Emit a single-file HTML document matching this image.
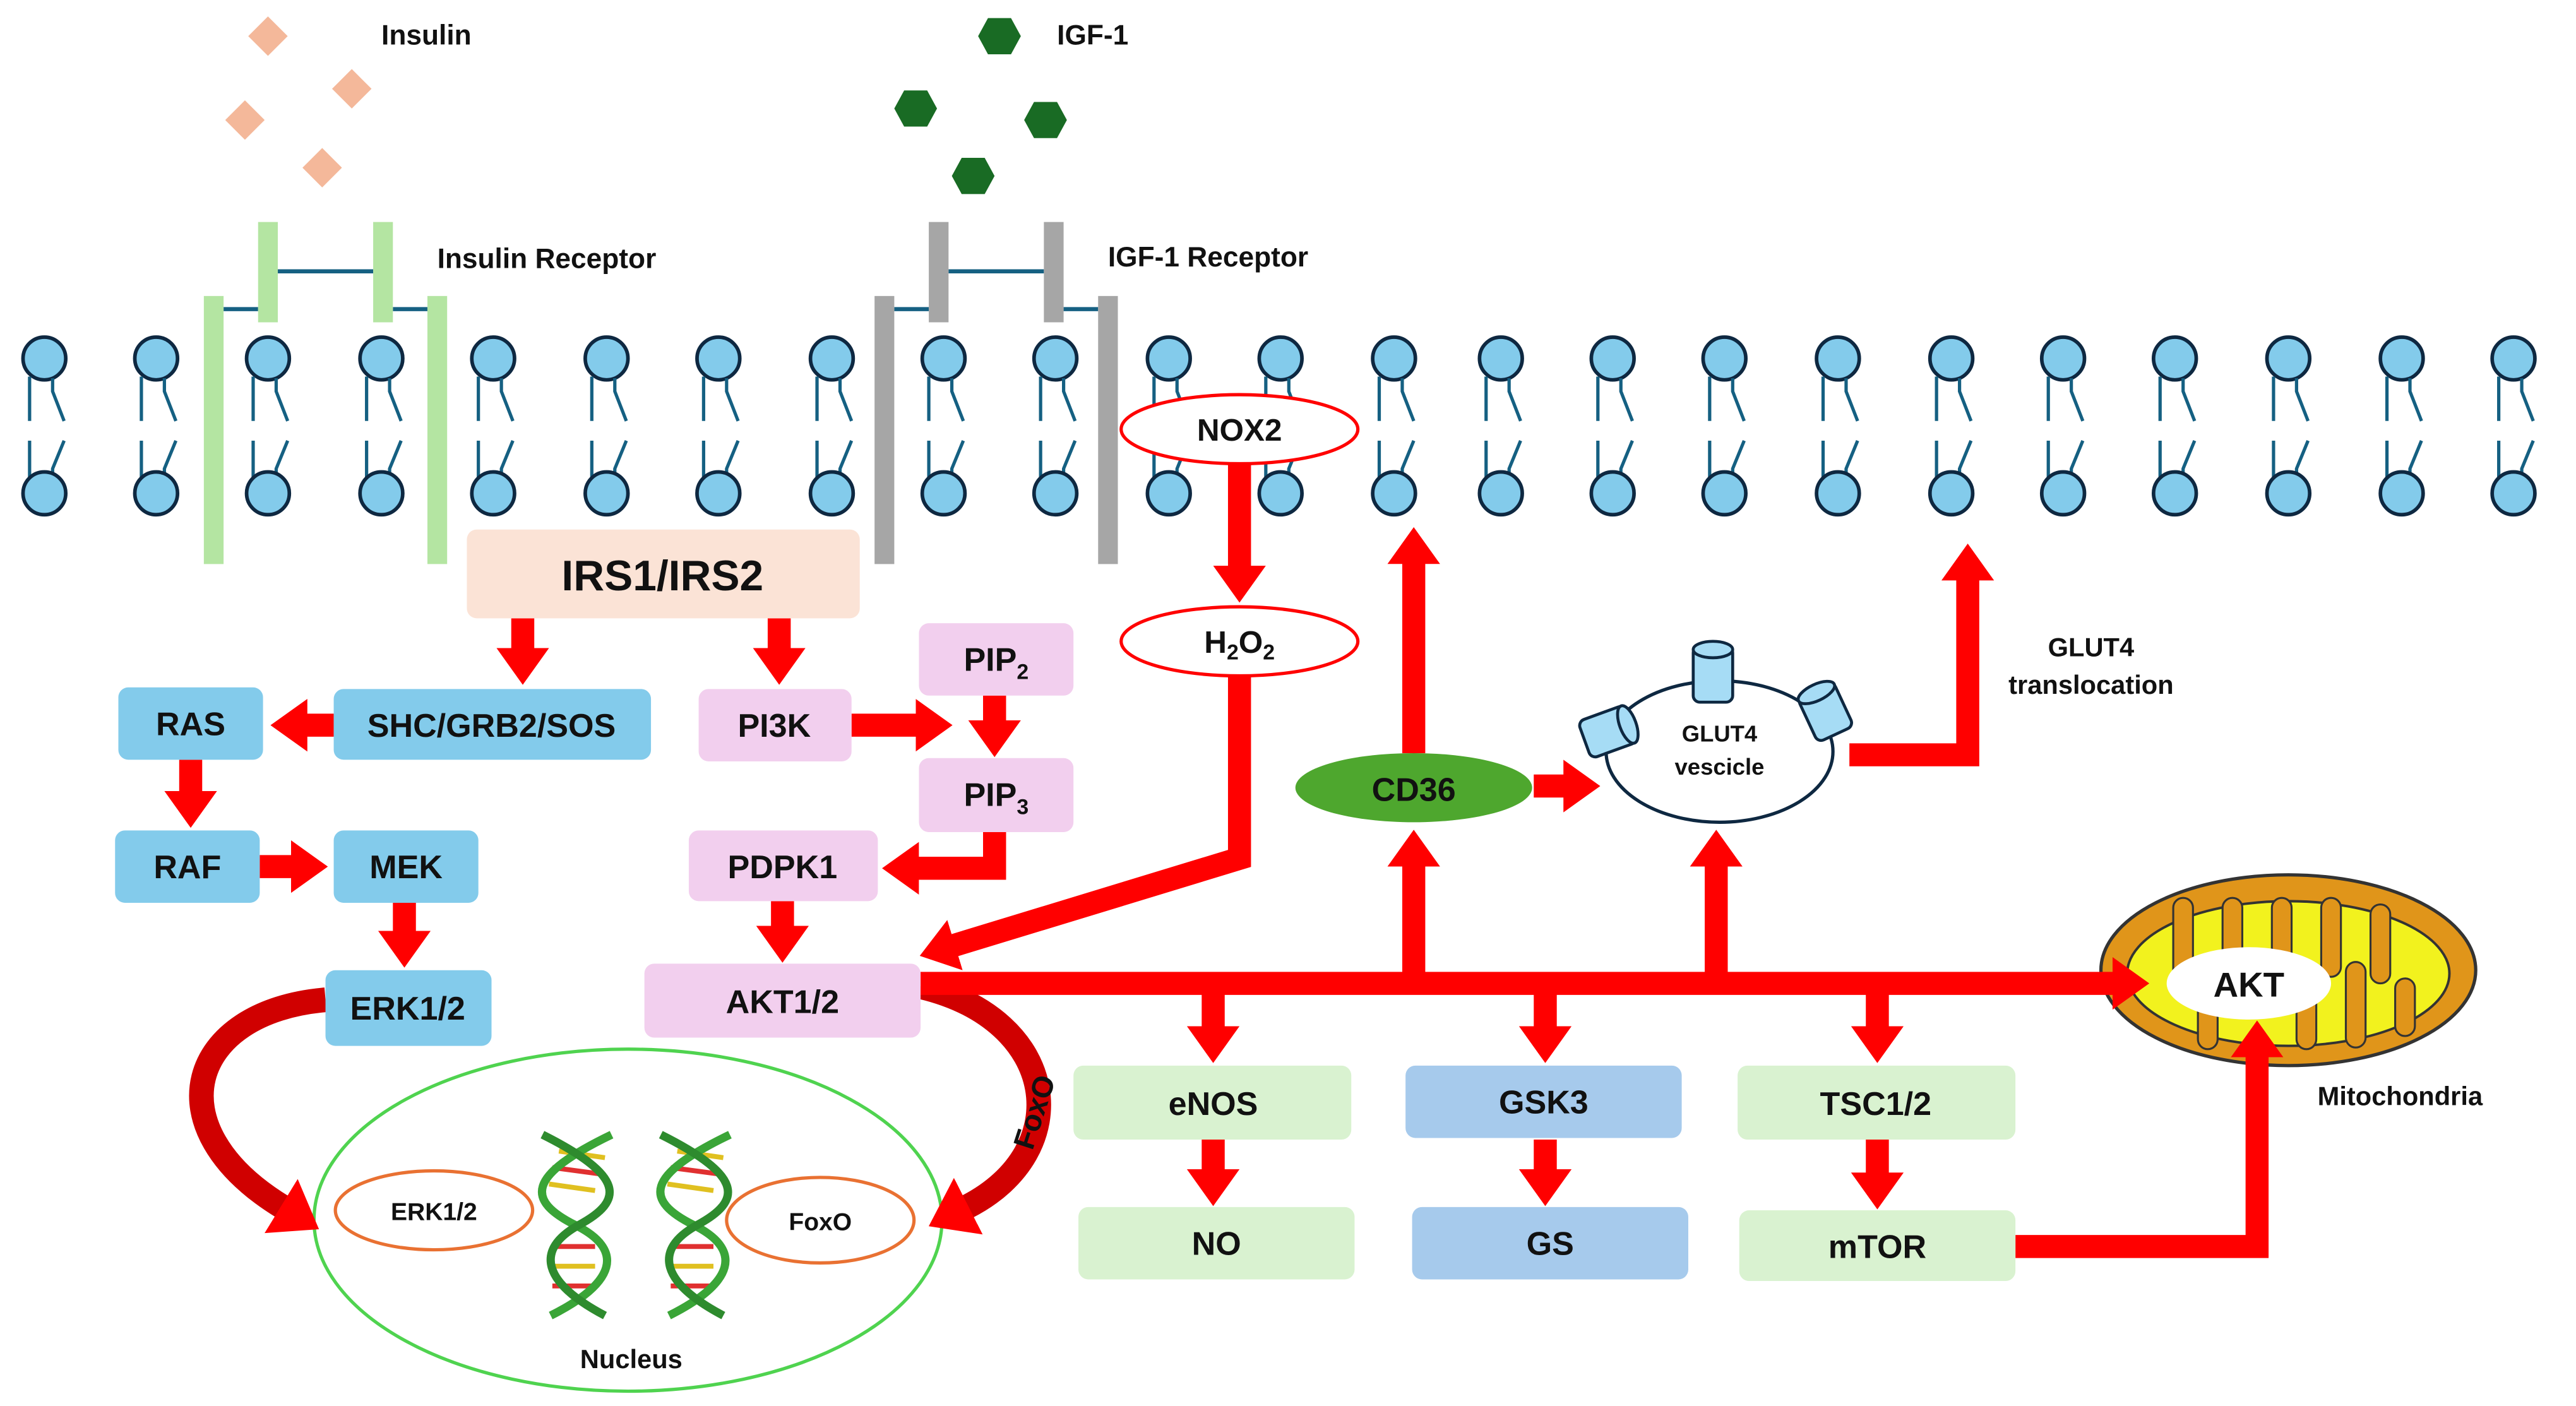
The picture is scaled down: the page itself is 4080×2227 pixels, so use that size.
<!DOCTYPE html>
<html><head><meta charset="utf-8"><style>
html,body{margin:0;padding:0;background:#fff}
svg{display:block}
text{font-family:"Liberation Sans Narrow","Liberation Sans",sans-serif;font-weight:bold;fill:#111}
</style></head><body>
<svg width="4080" height="2227" viewBox="0 0 1567 855" preserveAspectRatio="none" xmlns="http://www.w3.org/2000/svg">
<defs>
<g id="lip">
<circle cx="0" cy="218" r="13" fill="#83cbeb" stroke="#0e2841" stroke-width="2.2"/>
<polyline points="-9,229 -9,256" fill="none" stroke="#156082" stroke-width="2"/>
<polyline points="5,230 5,238 12,256" fill="none" stroke="#156082" stroke-width="2"/>
<polyline points="-9,268 -9,290" fill="none" stroke="#156082" stroke-width="2"/>
<polyline points="12,268 5,285 5,290" fill="none" stroke="#156082" stroke-width="2"/>
<circle cx="0" cy="300" r="13" fill="#83cbeb" stroke="#0e2841" stroke-width="2.2"/>
</g>
<marker id="ah" viewBox="0 0 7 10" refX="0.3" refY="5" markerWidth="1.6" markerHeight="2.3" orient="auto" markerUnits="strokeWidth">
<path d="M0,0 L7,5 L0,10 z" fill="#ff0000"/>
</marker>
<marker id="ahd" viewBox="0 0 7 10" refX="0.3" refY="5" markerWidth="1.8" markerHeight="2.6" orient="auto" markerUnits="strokeWidth">
<path d="M0,0 L7,5 L0,10 z" fill="#ff0000"/>
</marker>
</defs>

<!-- ligands -->
<g fill="#f4b89a">
<polygon points="163,10 175,22 163,34 151,22"/>
<polygon points="214,42 226,54 214,66 202,54"/>
<polygon points="149,61 161,73 149,85 137,73"/>
<polygon points="196,90 208,102 196,114 184,102"/>
</g>
<g fill="#196b24">
<polygon points="595,22 601,11 615,11 621,22 615,33 601,33"/>
<polygon points="544,66 550,55 564,55 570,66 564,77 550,77"/>
<polygon points="623,73 629,62 643,62 649,73 643,84 629,84"/>
<polygon points="579,107 585,96 599,96 605,107 599,118 585,118"/>
</g>
<text x="232" y="27" font-size="17">Insulin</text>
<text x="643" y="27" font-size="17">IGF-1</text>
<text x="266" y="163" font-size="17">Insulin Receptor</text>
<text x="674" y="162" font-size="17">IGF-1 Receptor</text>

<!-- lipids -->
<g>
<use href="#lip" x="27"/><use href="#lip" x="95"/><use href="#lip" x="163"/><use href="#lip" x="232"/>
<use href="#lip" x="300"/><use href="#lip" x="369"/><use href="#lip" x="437"/><use href="#lip" x="506"/>
<use href="#lip" x="574"/><use href="#lip" x="642"/><use href="#lip" x="711"/><use href="#lip" x="779"/>
<use href="#lip" x="848"/><use href="#lip" x="913"/><use href="#lip" x="981"/><use href="#lip" x="1049"/>
<use href="#lip" x="1118"/><use href="#lip" x="1187"/><use href="#lip" x="1255"/><use href="#lip" x="1323"/>
<use href="#lip" x="1392"/><use href="#lip" x="1461"/><use href="#lip" x="1529"/>
</g>

<!-- receptors -->
<g stroke="#156082" stroke-width="2.5">
<line x1="169" y1="165" x2="227" y2="165"/><line x1="136" y1="188" x2="157" y2="188"/><line x1="239" y1="188" x2="260" y2="188"/>
<line x1="577" y1="165" x2="635" y2="165"/><line x1="544" y1="188" x2="565" y2="188"/><line x1="647" y1="188" x2="668" y2="188"/>
</g>
<g fill="#b4e5a2">
<rect x="124" y="180" width="12" height="163"/><rect x="260" y="180" width="12" height="163"/>
<rect x="157" y="135" width="12" height="61"/><rect x="227" y="135" width="12" height="61"/>
</g>
<g fill="#a6a6a6">
<rect x="532" y="180" width="12" height="163"/><rect x="668" y="180" width="12" height="163"/>
<rect x="565" y="135" width="12" height="61"/><rect x="635" y="135" width="12" height="61"/>
</g>

<!-- nucleus -->
<ellipse cx="382" cy="742" rx="191" ry="104" fill="#fff" stroke="#4fd34f" stroke-width="2"/>
<ellipse cx="264" cy="736" rx="60" ry="24" fill="#fff" stroke="#e97132" stroke-width="2"/>
<ellipse cx="499" cy="742" rx="57" ry="26" fill="#fff" stroke="#e97132" stroke-width="2"/>
<text x="264" y="742" font-size="15" text-anchor="middle" font-weight="normal">ERK1/2</text>
<text x="499" y="748" font-size="15" text-anchor="middle" font-weight="normal">FoxO</text>
<text x="384" y="832" font-size="16" text-anchor="middle">Nucleus</text>
<!-- DNA -->
<g stroke-width="3">
<g stroke="#e0c020"><line x1="340" y1="700" x2="368" y2="704"/><line x1="334" y1="720" x2="362" y2="724"/><line x1="346" y1="745" x2="356" y2="745"/><line x1="334" y1="770" x2="362" y2="770"/><line x1="412" y1="700" x2="440" y2="704"/><line x1="406" y1="720" x2="434" y2="724"/><line x1="418" y1="745" x2="428" y2="745"/><line x1="406" y1="770" x2="434" y2="770"/></g>
<g stroke="#e03030"><line x1="336" y1="710" x2="366" y2="714"/><line x1="338" y1="758" x2="362" y2="758"/><line x1="336" y1="782" x2="362" y2="782"/><line x1="408" y1="710" x2="438" y2="714"/><line x1="410" y1="758" x2="434" y2="758"/><line x1="408" y1="782" x2="434" y2="782"/></g>
<path d="M372,690 C320,715 320,730 350,745 C380,760 375,780 335,800" fill="none" stroke="#3aa537" stroke-width="5"/>
<path d="M330,690 C380,715 380,730 352,745 C325,760 330,780 368,800" fill="none" stroke="#2e8b2e" stroke-width="5"/>
<path d="M444,690 C392,715 392,730 422,745 C452,760 447,780 407,800" fill="none" stroke="#3aa537" stroke-width="5"/>
<path d="M402,690 C452,715 452,730 424,745 C397,760 402,780 440,800" fill="none" stroke="#2e8b2e" stroke-width="5"/>
</g>

<!-- mitochondria -->
<ellipse cx="1392" cy="590" rx="114" ry="58" fill="#e0951a" stroke="#333" stroke-width="2"/>
<ellipse cx="1392" cy="592" rx="98" ry="44" fill="#f2f21e" stroke="#333" stroke-width="1.5"/>
<g fill="#e0951a" stroke="#333" stroke-width="1.2">
<rect x="1322" y="546" width="12" height="55" rx="6"/><rect x="1352" y="546" width="12" height="48" rx="6"/>
<rect x="1382" y="546" width="12" height="55" rx="6"/><rect x="1412" y="546" width="12" height="48" rx="6"/>
<rect x="1442" y="550" width="12" height="48" rx="6"/>
<rect x="1337" y="590" width="12" height="48" rx="6"/><rect x="1397" y="590" width="12" height="48" rx="6"/>
<rect x="1427" y="585" width="12" height="52" rx="6"/><rect x="1457" y="595" width="12" height="35" rx="6"/>
</g>
<ellipse cx="1368" cy="598" rx="50" ry="22" fill="#fff"/>
<text x="1368" y="606" font-size="21" text-anchor="middle">AKT</text>
<text x="1460" y="672" font-size="16" text-anchor="middle">Mitochondria</text>

<!-- curved arrows -->
<path d="M198,608 C115,615 92,685 172,734" fill="none" stroke="#d00000" stroke-width="15" marker-end="url(#ahd)"/>
<path d="M560,600 C645,620 655,700 588,734" fill="none" stroke="#d00000" stroke-width="15" marker-end="url(#ahd)"/>
<text x="0" y="0" font-size="18" transform="translate(628,700) rotate(-72)">FoxO</text>

<!-- straight arrows -->
<g fill="none" stroke="#ff0000" stroke-width="14" marker-end="url(#ah)">
<line x1="318" y1="376" x2="318" y2="395"/>
<line x1="474" y1="376" x2="474" y2="395"/>
<line x1="203" y1="441" x2="186" y2="441"/>
<line x1="116" y1="462" x2="116" y2="482"/>
<line x1="158" y1="527" x2="178" y2="527"/>
<line x1="246" y1="549" x2="246" y2="567"/>
<line x1="518" y1="441" x2="558" y2="441"/>
<line x1="605" y1="423" x2="605" y2="439"/>
<polyline points="605,506 605,528 558,528"/>
<line x1="476" y1="548" x2="476" y2="564"/>
<line x1="754" y1="282" x2="754" y2="345"/>
<polyline points="754,411 754,522 580,575"/>
<line x1="560" y1="598" x2="1286" y2="598"/>
<line x1="738" y1="598" x2="738" y2="625"/>
<line x1="940" y1="598" x2="940" y2="625"/>
<line x1="1142" y1="598" x2="1142" y2="625"/>
<line x1="860" y1="598" x2="860" y2="526"/>
<line x1="1044" y1="598" x2="1044" y2="526"/>
<line x1="860" y1="458" x2="860" y2="342"/>
<line x1="933" y1="478" x2="952" y2="478"/>
<line x1="738" y1="693" x2="738" y2="712"/>
<line x1="940" y1="693" x2="940" y2="712"/>
<line x1="1142" y1="693" x2="1142" y2="714"/>
<polyline points="1226,758 1373,758 1373,642"/>
<polyline points="1125,459 1197,459 1197,352"/>
</g>

<!-- boxes -->
<g>
<rect x="284" y="322" width="239" height="54" rx="6" fill="#fbe3d6"/>
<text x="403" y="359" font-size="26" text-anchor="middle">IRS1/IRS2</text>
<rect x="203" y="419" width="193" height="43" rx="6" fill="#83cbeb"/>
<text x="299" y="448" font-size="20" text-anchor="middle">SHC/GRB2/SOS</text>
<rect x="72" y="418" width="88" height="44" rx="6" fill="#83cbeb"/>
<text x="116" y="447" font-size="20" text-anchor="middle">RAS</text>
<rect x="70" y="505" width="88" height="44" rx="6" fill="#83cbeb"/>
<text x="114" y="534" font-size="20" text-anchor="middle">RAF</text>
<rect x="203" y="505" width="88" height="44" rx="6" fill="#83cbeb"/>
<text x="247" y="534" font-size="20" text-anchor="middle">MEK</text>
<rect x="198" y="590" width="101" height="46" rx="6" fill="#83cbeb"/>
<text x="248" y="620" font-size="20" text-anchor="middle">ERK1/2</text>
<rect x="425" y="419" width="93" height="44" rx="6" fill="#f2cfee"/>
<text x="471" y="448" font-size="20" text-anchor="middle">PI3K</text>
<rect x="559" y="379" width="94" height="44" rx="6" fill="#f2cfee"/>
<text x="606" y="408" font-size="20" text-anchor="middle">PIP<tspan font-size="13" dy="5">2</tspan></text>
<rect x="559" y="461" width="94" height="45" rx="6" fill="#f2cfee"/>
<text x="606" y="490" font-size="20" text-anchor="middle">PIP<tspan font-size="13" dy="5">3</tspan></text>
<rect x="419" y="505" width="115" height="43" rx="6" fill="#f2cfee"/>
<text x="476" y="534" font-size="20" text-anchor="middle">PDPK1</text>
<rect x="392" y="586" width="168" height="45" rx="6" fill="#f2cfee"/>
<text x="476" y="616" font-size="20" text-anchor="middle">AKT1/2</text>
<rect x="653" y="648" width="169" height="45" rx="6" fill="#d9f2d0"/>
<text x="738" y="678" font-size="20" text-anchor="middle">eNOS</text>
<rect x="656" y="734" width="168" height="44" rx="6" fill="#d9f2d0"/>
<text x="740" y="763" font-size="20" text-anchor="middle">NO</text>
<rect x="855" y="648" width="168" height="44" rx="6" fill="#a6caec"/>
<text x="939" y="677" font-size="20" text-anchor="middle">GSK3</text>
<rect x="859" y="734" width="168" height="44" rx="6" fill="#a6caec"/>
<text x="943" y="763" font-size="20" text-anchor="middle">GS</text>
<rect x="1057" y="648" width="169" height="45" rx="6" fill="#d9f2d0"/>
<text x="1141" y="678" font-size="20" text-anchor="middle">TSC1/2</text>
<rect x="1058" y="736" width="168" height="43" rx="6" fill="#d9f2d0"/>
<text x="1142" y="765" font-size="20" text-anchor="middle">mTOR</text>
</g>

<!-- ellipses -->
<ellipse cx="754" cy="261" rx="72" ry="21" fill="#fff" stroke="#ff0000" stroke-width="2"/>
<text x="754" y="268" font-size="19" text-anchor="middle">NOX2</text>
<ellipse cx="754" cy="390" rx="72" ry="21" fill="#fff" stroke="#ff0000" stroke-width="2"/>
<text x="754" y="397" font-size="19" text-anchor="middle">H<tspan font-size="13" dy="4">2</tspan><tspan dy="-4">O</tspan><tspan font-size="13" dy="4">2</tspan></text>
<ellipse cx="860" cy="479" rx="72" ry="21" fill="#4ea72e"/>
<text x="860" y="487" font-size="20" text-anchor="middle">CD36</text>

<!-- GLUT4 vesicle -->
<ellipse cx="1046" cy="457" rx="69" ry="43" fill="#fff" stroke="#0e2841" stroke-width="2"/>
<g fill="#a6dcf5" stroke="#0e2841" stroke-width="1.8">
<rect x="1030" y="393" width="24" height="34" rx="4"/>
<ellipse cx="1042" cy="395" rx="12" ry="5"/>
<g transform="rotate(-25 1110 432)"><rect x="1098" y="418" width="24" height="30" rx="4"/><ellipse cx="1110" cy="420" rx="12" ry="5"/></g>
<g transform="rotate(70 978 445)"><rect x="966" y="430" width="24" height="30" rx="4"/><ellipse cx="978" cy="432" rx="12" ry="5"/></g>
</g>
<text x="1046" y="451" font-size="14" text-anchor="middle">GLUT4</text>
<text x="1046" y="471" font-size="14" text-anchor="middle">vescicle</text>
<text x="1272" y="399" font-size="16" text-anchor="middle">GLUT4</text>
<text x="1272" y="422" font-size="16" text-anchor="middle">translocation</text>
</svg>
</body></html>
